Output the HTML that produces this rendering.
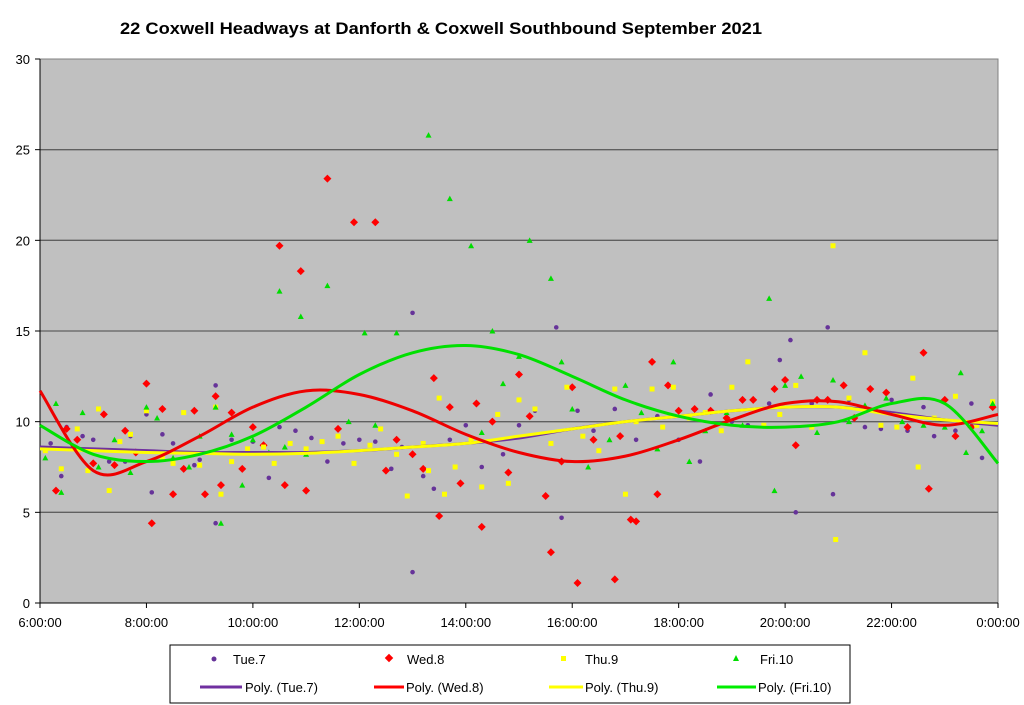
<!DOCTYPE html>
<html><head><meta charset="utf-8"><style>
html,body{margin:0;padding:0;background:#fff;}
svg{display:block;font-family:"Liberation Sans",Arial,sans-serif;}
</style></head><body>
<svg id="chart" width="1024" height="705" viewBox="0 0 1024 705" xmlns="http://www.w3.org/2000/svg">
<text x="120" y="34" font-size="17" font-weight="bold" textLength="642" lengthAdjust="spacingAndGlyphs">22 Coxwell Headways at Danforth &amp; Coxwell Southbound September 2021</text>
<rect x="40" y="59" width="958" height="544" fill="#c0c0c0" stroke="#808080"/>
<g id="grid"></g><g id="axes"></g><g id="pts"></g><g id="trends"></g>
<g>
<rect x="170" y="645" width="680" height="58" fill="#fff" stroke="#000"/>
<circle cx="214" cy="659" r="2.5" fill="#663399"/>
<text x="233" y="664" font-size="13">Tue.7</text>
<rect x="386" y="655" width="6" height="6" fill="#ff0000" transform="rotate(45 389 658)"/>
<text x="407" y="664" font-size="13">Wed.8</text>
<rect x="561" y="656" width="5" height="5" fill="#ffff00"/>
<text x="585" y="664" font-size="13">Thu.9</text>
<polygon points="736,655 739,661 733,661" fill="#00dd00"/>
<text x="760" y="664" font-size="13">Fri.10</text>
<line x1="200" y1="687" x2="242" y2="687" stroke="#7030a0" stroke-width="3"/>
<text x="245" y="692" font-size="13">Poly. (Tue.7)</text>
<line x1="374" y1="687" x2="404" y2="687" stroke="#ff0000" stroke-width="3"/>
<text x="406" y="692" font-size="13">Poly. (Wed.8)</text>
<line x1="549" y1="687" x2="583" y2="687" stroke="#ffff00" stroke-width="3"/>
<text x="585" y="692" font-size="13">Poly. (Thu.9)</text>
<line x1="717" y1="687" x2="756" y2="687" stroke="#00ee00" stroke-width="3"/>
<text x="758" y="692" font-size="13">Poly. (Fri.10)</text>
</g>
</svg>
<script>
const yTicks=[0,5,10,15,20,25,30];
const xTickHours=[6,8,10,12,14,16,18,20,22,24];
const xTickLabels=["6:00:00","8:00:00","10:00:00","12:00:00","14:00:00","16:00:00","18:00:00","20:00:00","22:00:00","0:00:00"];
const tue=[[6.2,8.8],[6.4,7.0],[6.5,9.7],[6.8,9.2],[7.0,9.0],[7.3,7.8],[7.6,7.8],[7.7,9.2],[8.0,10.4],[8.1,6.1],[8.3,9.3],[8.5,8.8],[8.9,7.6],[9.0,7.9],[9.3,12.0],[9.3,4.4],[9.6,9.0],[10.0,8.9],[10.3,6.9],[10.5,9.7],[10.8,9.5],[11.1,9.1],[11.4,7.8],[11.7,8.8],[12.0,9.0],[12.3,8.9],[12.6,7.4],[12.8,8.6],[13.0,16.0],[13.0,1.7],[13.2,7.0],[13.4,6.3],[13.7,9.0],[14.0,9.8],[14.3,7.5],[14.7,8.2],[15.0,9.8],[15.3,10.6],[15.7,15.2],[15.8,4.7],[16.1,10.6],[16.4,9.5],[16.8,10.7],[17.2,9.0],[17.6,10.3],[18.0,9.0],[18.4,7.8],[18.6,11.5],[19.0,10.0],[19.3,9.8],[19.7,11.0],[19.9,13.4],[20.1,14.5],[20.2,5.0],[20.5,11.0],[20.8,15.2],[20.9,6.0],[21.2,11.2],[21.5,9.7],[21.8,9.6],[22.0,11.2],[22.3,9.5],[22.6,10.8],[22.8,9.2],[23.2,9.5],[23.5,11.0],[23.7,8.0],[23.9,10.8]];
const wed=[[6.3,6.2],[6.5,9.6],[6.7,9.0],[7.0,7.7],[7.2,10.4],[7.4,7.6],[7.6,9.5],[7.8,8.3],[8.0,12.1],[8.1,4.4],[8.3,10.7],[8.5,6.0],[8.7,7.4],[8.9,10.6],[9.1,6.0],[9.3,11.4],[9.4,6.5],[9.6,10.5],[9.8,7.4],[10.0,9.7],[10.2,8.7],[10.5,19.7],[10.6,6.5],[10.9,18.3],[11.0,6.2],[11.4,23.4],[11.6,9.6],[11.9,21.0],[12.3,21.0],[12.5,7.3],[12.7,9.0],[13.0,8.2],[13.2,7.4],[13.4,12.4],[13.5,4.8],[13.7,10.8],[13.9,6.6],[14.2,11.0],[14.3,4.2],[14.5,10.0],[14.8,7.2],[15.0,12.6],[15.2,10.3],[15.5,5.9],[15.6,2.8],[15.8,7.8],[16.0,11.9],[16.1,1.1],[16.4,9.0],[16.8,1.3],[16.9,9.2],[17.1,4.6],[17.2,4.5],[17.5,13.3],[17.6,6.0],[17.8,12.0],[18.0,10.6],[18.3,10.7],[18.6,10.6],[18.9,10.2],[19.2,11.2],[19.4,11.2],[19.8,11.8],[20.0,12.3],[20.2,8.7],[20.6,11.2],[20.8,11.2],[21.1,12.0],[21.3,10.2],[21.6,11.8],[21.9,11.6],[22.3,9.7],[22.6,13.8],[22.7,6.3],[23.0,11.2],[23.2,9.2],[23.5,9.7],[23.9,10.8]];
const thu=[[6.1,8.4],[6.4,7.4],[6.7,9.6],[6.9,7.3],[7.1,10.7],[7.3,6.2],[7.5,8.9],[7.7,9.3],[8.0,10.6],[8.3,8.0],[8.5,7.7],[8.7,10.5],[9.0,7.6],[9.3,10.8],[9.4,6.0],[9.6,7.8],[9.9,8.5],[10.2,8.6],[10.4,7.7],[10.7,8.8],[11.0,8.5],[11.3,8.9],[11.6,9.2],[11.9,7.7],[12.2,8.7],[12.4,9.6],[12.7,8.2],[12.9,5.9],[13.2,8.8],[13.3,7.3],[13.5,11.3],[13.6,6.0],[13.8,7.5],[14.1,9.0],[14.3,6.4],[14.6,10.4],[14.8,6.6],[15.0,11.2],[15.3,10.7],[15.6,8.8],[15.9,11.9],[16.2,9.2],[16.5,8.4],[16.8,11.8],[17.0,6.0],[17.2,10.0],[17.5,11.8],[17.7,9.7],[17.9,11.9],[18.2,10.2],[18.5,10.5],[18.8,9.5],[19.0,11.9],[19.3,13.3],[19.6,9.8],[19.9,10.4],[20.2,12.0],[20.5,9.7],[20.9,19.7],[20.95,3.5],[21.2,11.3],[21.5,13.8],[21.8,9.8],[22.1,9.7],[22.4,12.4],[22.5,7.5],[22.8,10.2],[23.2,11.4],[23.6,9.8],[23.9,11.1]];
const fri=[[6.1,8.0],[6.3,11.0],[6.4,6.1],[6.8,10.5],[7.1,7.5],[7.4,9.0],[7.7,7.2],[8.0,10.8],[8.2,10.2],[8.5,8.0],[8.8,7.5],[9.0,9.2],[9.3,10.8],[9.4,4.4],[9.6,9.3],[9.8,6.5],[10.0,9.0],[10.3,8.3],[10.5,17.2],[10.6,8.6],[10.9,15.8],[11.0,8.2],[11.4,17.5],[11.8,10.0],[12.1,14.9],[12.3,9.8],[12.7,14.9],[13.3,25.8],[13.7,22.3],[14.1,19.7],[14.3,9.4],[14.5,15.0],[14.7,12.1],[15.0,13.6],[15.2,20.0],[15.6,17.9],[15.8,13.3],[16.0,10.7],[16.3,7.5],[16.7,9.0],[17.0,12.0],[17.3,10.5],[17.6,8.5],[17.9,13.3],[18.2,7.8],[18.5,9.5],[18.9,10.5],[19.2,9.8],[19.7,16.8],[19.8,6.2],[20.0,12.0],[20.3,12.5],[20.6,9.4],[20.9,12.3],[21.2,10.0],[21.5,10.9],[21.9,11.3],[22.2,10.0],[22.6,9.8],[23.0,9.7],[23.3,12.7],[23.4,8.3],[23.7,9.5],[23.9,11.0]];
const trendHours=[6,7,8,9,10,11,12,13,14,15,16,17,18,19,20,21,22,23,24];
const trendTue=[8.6,8.5,8.4,8.3,8.3,8.3,8.4,8.6,8.8,9.1,9.6,10.0,10.3,10.6,10.8,10.8,10.5,10.1,9.8];
const trendWed=[11.7,7.3,7.8,9.2,10.8,11.7,11.5,10.6,9.3,8.3,7.8,8.1,9.0,10.1,11.0,11.1,10.4,9.8,10.4];
const trendThu=[8.5,8.4,8.3,8.25,8.2,8.25,8.4,8.6,8.8,9.2,9.6,10.0,10.3,10.6,10.8,10.8,10.4,10.1,9.9];
const trendFri=[9.8,8.2,7.8,8.2,9.2,10.8,12.6,13.8,14.2,13.7,12.5,11.2,10.3,9.8,9.7,10.0,11.0,11.0,7.7];

const NS="http://www.w3.org/2000/svg";
const X=h=>40+(h-6)*(958/18), Y=v=>603-v*(544/30);
function mk(tag,parent,attrs){const e=document.createElementNS(NS,tag);for(const k in attrs)e.setAttribute(k,attrs[k]);document.getElementById(parent).appendChild(e);return e;}
yTicks.forEach(v=>{
  if(v>0&&v<30){const g=mk('line','grid',{x1:40,x2:998,y1:Y(v),y2:Y(v),stroke:'#606060','stroke-width':1.3});
  
  }
  const t=mk('line','axes',{x1:35,x2:40,y1:Y(v),y2:Y(v),stroke:'#000'});
  
  
  const l=mk('text','axes',{x:30,y:Y(v)+5,'text-anchor':'end','font-size':13});l.textContent=v;
  
  
});
xTickHours.forEach((h,i)=>{
  const t=mk('line','axes',{x1:X(h),x2:X(h),y1:603,y2:608,stroke:'#000'});
  
  
  const l=mk('text','axes',{x:X(h),y:627,'text-anchor':'middle','font-size':13});l.textContent=xTickLabels[i];
  
  
});
mk('line','axes',{x1:40,x2:40,y1:59,y2:603,stroke:'#000'});
mk('line','axes',{x1:40,x2:998,y1:603,y2:603,stroke:'#000'});
tue.forEach(p=>{const e=mk('circle','pts',{cx:X(p[0]),cy:Y(p[1]),r:2.3,fill:'#663399'});
  
  });
wed.forEach(p=>{const x=X(p[0]),y=Y(p[1]);const e=mk('polygon','pts',{points:`${x},${y-4} ${x+4},${y} ${x},${y+4} ${x-4},${y}`,fill:'#ff0000'});
  
  });
thu.forEach(p=>{const e=mk('rect','pts',{x:X(p[0])-2.5,y:Y(p[1])-2.5,width:5,height:5,fill:'#ffff00'});
  
  });
fri.forEach(p=>{const x=X(p[0]),y=Y(p[1]);const e=mk('polygon','pts',{points:`${x},${y-3} ${x+3},${y+2.5} ${x-3},${y+2.5}`,fill:'#00dd00'});
  
  });
function curve(vals){const P=trendHours.map((h,i)=>[X(h),Y(vals[i])]);let d=`M${P[0][0]},${P[0][1]}`;
  for(let i=0;i<P.length-1;i++){const p0=P[Math.max(0,i-1)],p1=P[i],p2=P[i+1],p3=P[Math.min(P.length-1,i+2)];
    d+=` C${p1[0]+(p2[0]-p0[0])/6},${p1[1]+(p2[1]-p0[1])/6} ${p2[0]-(p3[0]-p1[0])/6},${p2[1]-(p3[1]-p1[1])/6} ${p2[0]},${p2[1]}`;}
  return d;}
[[trendTue,'#7030a0','trend-tue'],[trendThu,'#ffff00','trend-thu'],[trendWed,'#ee0000','trend-wed'],[trendFri,'#00e000','trend-fri']].forEach(s=>{
  const e=mk('path','trends',{d:curve(s[0]),fill:'none',stroke:s[1],'stroke-width':3});
  
  
});
</script>
</body></html>
